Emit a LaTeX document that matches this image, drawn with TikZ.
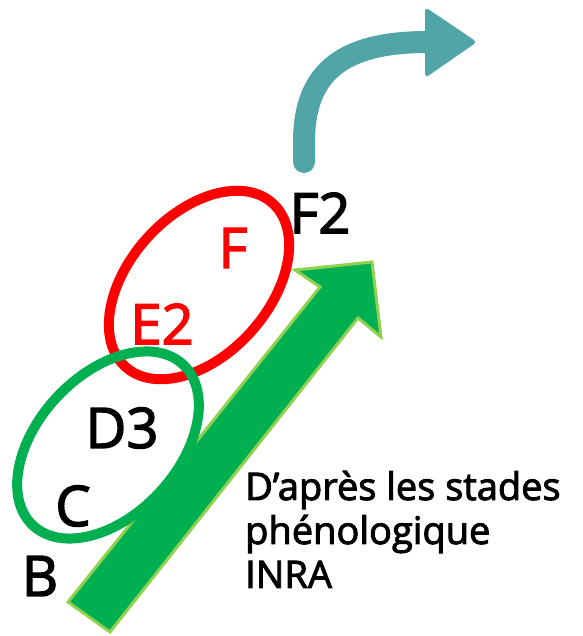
\documentclass[tikz,border=0pt]{standalone}
\usepackage{fontspec}
\setmainfont{Open Sans}[FakeBold=2.5]
\definecolor{verde}{HTML}{00B050}
\definecolor{verdeclaro}{HTML}{92D050}
\definecolor{turquesa}{HTML}{52A5A6}
\definecolor{rojo}{HTML}{FF0000}

\begin{document}
\begin{tikzpicture}[x=1pt,y=1pt,
		etapa/.style={inner sep=0pt, font=\fontsize{56}{60}\selectfont},
		nota/.style={inner sep=0pt, align=left, font=\fontsize{38}{44}\selectfont}]
			
			\useasboundingbox (0,0) rectangle (582,636);
			
			% Flecha grande
			\filldraw[fill=verde, draw=verdeclaro, line width=3pt, line join=miter]
				(68,34) -- (320,349) -- (295,366) -- (372,374) -- (381,299) -- (358,318) -- (110,4) -- cycle;
			
			% Elipses de los estadios
			\draw[rojo, line width=10pt] (199,351) ellipse [x radius=110, y radius=70, rotate=48]; % E2 - F
			\draw[verde, line width=10pt] (108,191) ellipse [x radius=110, y radius=70, rotate=47]; % C - D3
			
			% Flecha curva
			\coordinate (ini) at (304,474);
			\coordinate (fin) at (428,594);
			\draw[turquesa, line width=22pt, line cap=round] (ini) -- ++(0,20) .. controls (304,566) and (345,594) .. (fin);
			\fill[turquesa, rounded corners=4pt] (425,629) -- (477,594) -- (425,558) -- cycle;
			
			% Estadios
			\node[etapa] (b) at (40,60) {B};
			\node[etapa] (c) at (73,130) {C};
			\node[etapa] (d3) at (122,208) {D3};
			\node[etapa, text=rojo] (e2) at (162,312) {E2};
			\node[etapa, text=rojo] (f) at (233,388) {F};
			\node[etapa] (f2) at (320,423) {F2};
			
			% Fuente (ancla en la ultima linea)
			\node[nota, anchor=base west] (fuente) at (245,48) {D’après les stades\\phénologique\\INRA};
			
		\end{tikzpicture}
\end{document}
